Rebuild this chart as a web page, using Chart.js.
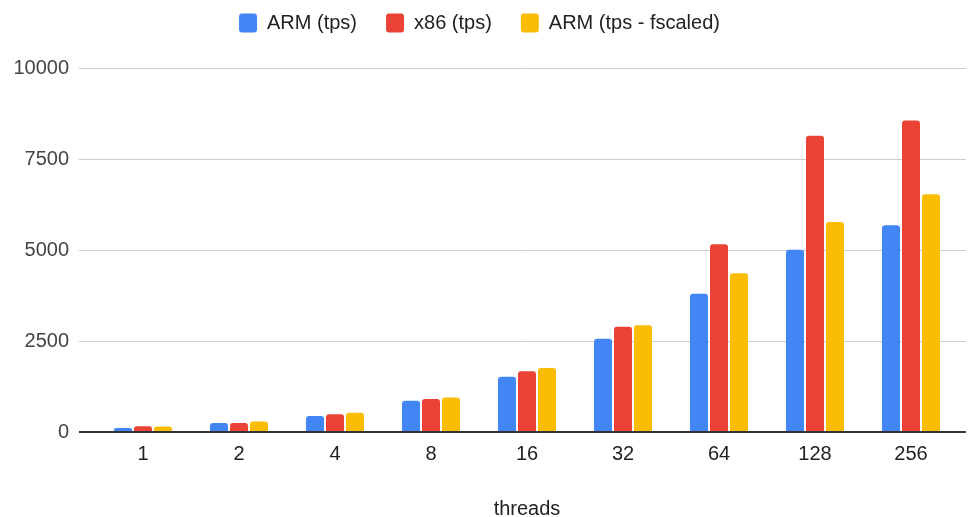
<!DOCTYPE html>
<html>
<head>
<meta charset="utf-8">
<script src="https://cdn.jsdelivr.net/npm/chart.js@4"></script>
<style>
  body { margin: 0; background: #fff; }
  #wrap { width: 968px; height: 517px; }
</style>
</head>
<body>
<div id="wrap"><canvas id="myChart" width="968" height="517"></canvas></div>
<script>
// data

var threads      = ["1", "2", "4", "8", "16", "32", "64", "128", "256"];
var armTps       = [110, 250, 440, 860, 1520, 2560, 3800, 5010, 5680];
var x86Tps       = [160, 250, 485, 910, 1670, 2890, 5160, 8140, 8560];
var armFscaled   = [150, 290, 530, 950, 1760, 2930, 4360, 5770, 6530];
var yTicks       = [0, 2500, 5000, 7500, 10000];

// config

var fontName = "'Liberation Sans', Arial, sans-serif";
var fontSize = 20;
var gridLeft = 79;
var gridRight = 966;

// draws the horizontal grid lines a bit wider than the bars area, like the sheet does
var wideGrid = {
    id: "wideGrid",
    beforeInit: function(chart) {
        // more room under the legend
        var fit = chart.legend.fit;
        chart.legend.fit = function() {
            fit.bind(chart.legend)();
            this.height += 25;
        };
    },
    beforeDatasetsDraw: function(chart) {
        var y = chart.scales.y;
        var ctx = chart.ctx;
        ctx.save();
        yTicks.forEach(function(v) {
            if (v == 0) return;
            var py = Math.round(y.getPixelForValue(v)) + 0.5;
            ctx.beginPath();
            ctx.lineWidth = 1;
            ctx.strokeStyle = "#cccccc";
            ctx.moveTo(gridLeft, py);
            ctx.lineTo(gridRight, py);
            ctx.stroke();
        });
        ctx.restore();
    },
    afterDatasetsDraw: function(chart) {
        // baseline on top of the bars
        var y = chart.scales.y;
        var ctx = chart.ctx;
        var py = Math.round(y.getPixelForValue(0));
        ctx.save();
        ctx.beginPath();
        ctx.lineWidth = 2;
        ctx.strokeStyle = "#333333";
        ctx.moveTo(gridLeft, py);
        ctx.lineTo(gridRight, py);
        ctx.stroke();
        ctx.restore();
    }
};

function makeSet(label, data, color)
{
    return {
        label: label,
        data: data,
        backgroundColor: color,
        borderColor: color,
        borderWidth: 0,
        borderRadius: { topLeft: 3, topRight: 3 },
        borderSkipped: "bottom",
        categoryPercentage: 0.625,
        barPercentage: 0.9
    };
}

var ctx = document.getElementById("myChart");
var myChart = new Chart(ctx.getContext("2d"), {
    type: "bar",
    data: {
        labels: threads,
        datasets: [
            makeSet("ARM (tps)", armTps, "#4285F4"),
            makeSet("x86 (tps)", x86Tps, "#EA4335"),
            makeSet("ARM (tps - fscaled)", armFscaled, "#FBBC04")
        ]
    },
    options: {
        responsive: false,
        animation: false,
        devicePixelRatio: 1,
        layout: { padding: { left: 0, right: 9, top: -16, bottom: 0 } },
        plugins: {
            legend: {
                position: "top",
                align: "center",
                labels: {
                    color: "#222222",
                    font: { family: fontName, size: fontSize },
                    boxWidth: 18,
                    boxHeight: 19,
                    useBorderRadius: true,
                    borderRadius: 3,
                    padding: 29
                }
            },
            tooltip: { enabled: false }
        },
        scales: {
            x: {
                grid: { display: false, drawTicks: false },
                border: { display: false },
                ticks: {
                    color: "#222222",
                    font: { family: fontName, size: fontSize },
                    padding: 10
                },
                title: {
                    display: true,
                    text: "threads",
                    color: "#222222",
                    font: { family: fontName, size: fontSize },
                    padding: { top: 21, bottom: -4 }
                }
            },
            y: {
                min: 0,
                max: 10000,
                afterFit: function(scale) { scale.width = 95; },
                afterBuildTicks: function(scale) {
                    scale.ticks = yTicks.map(function(v) { return { value: v }; });
                },
                grid: { display: false, drawTicks: false },
                border: { display: false },
                ticks: {
                    color: "#444444",
                    font: { family: fontName, size: fontSize },
                    padding: 26,
                    callback: function(v) { return String(v); }
                }
            }
        }
    },
    plugins: [wideGrid]
});
</script>
</body>
</html>
